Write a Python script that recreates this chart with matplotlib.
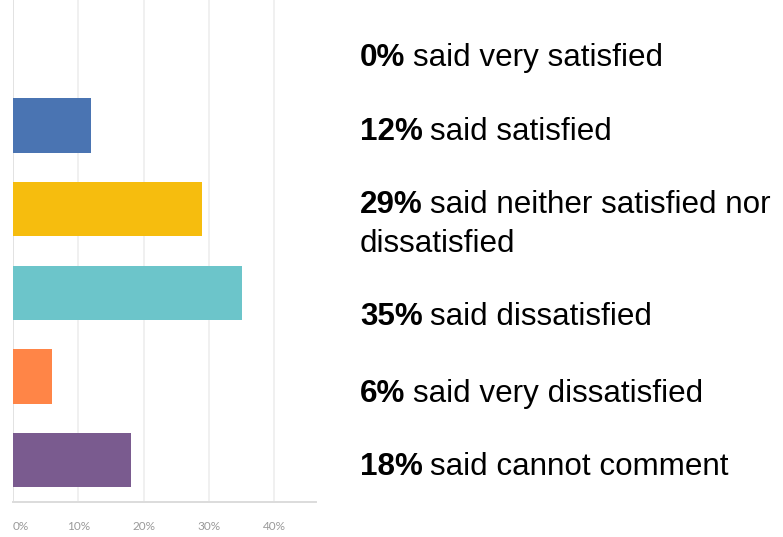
import matplotlib
matplotlib.use("Agg")
import matplotlib.pyplot as plt

# Survey responses
categories = ["very satisfied", "satisfied", "neither satisfied nor\ndissatisfied",
              "dissatisfied", "very dissatisfied", "cannot comment"]
percentages = [0, 12, 29, 35, 6, 18]
bar_colors = ["#4a74b2", "#4a74b2", "#f6bd0e", "#6cc5ca", "#ff8547", "#7a5b8f"]
x_ticks = [0, 10, 20, 30, 40]
x_tick_labels = ["0%", "10%", "20%", "30%", "40%"]

W, H = 783, 537
fig = plt.figure(figsize=(W / 100, H / 100), dpi=100)
fig.patch.set_facecolor("white")

ax = fig.add_axes([13 / W, (H - 502) / H, (316 - 13) / W, 502 / H])
ax.set_xlim(0, 46.4)
ax.set_ylim(len(categories) - 0.5, -0.5)

ax.barh(range(len(categories)), percentages, height=0.65, color=bar_colors, zorder=3)

for x in x_ticks:
    ax.axvline(x, color="#f0f0f0" if x else "#e2e2e2", lw=1.4, zorder=1)

for side in ("top", "right", "left"):
    ax.spines[side].set_visible(False)
ax.spines["bottom"].set_color("#dcdcdc")
ax.spines["bottom"].set_linewidth(1.4)

ax.set_yticks([])
ax.set_xticks(x_ticks)
ax.set_xticklabels(x_tick_labels, fontsize=8.5, color="#9a9a9a", family="Lato")
ax.tick_params(axis="x", length=0, pad=14)
ax.get_xticklabels()[0].set_horizontalalignment("left")

# Right-hand summary statements: bold percentage followed by the description
font = "Liberation Sans"
size = 22.6
gap_px = 7.5
baselines = [66, 140, 213, 325, 402, 475]
x0 = 360 / W
for pct, cat, yb in zip(percentages, categories, baselines):
    first, *rest = cat.split("\n")
    t = fig.text(x0, 1 - yb / H, f"{pct}%", fontsize=size, fontweight="bold",
                 family=font, color="black", va="baseline", ha="left")
    fig.canvas.draw()
    r = fig.canvas.get_renderer()
    bb = t.get_window_extent(renderer=r)
    fig.text((bb.x1 + gap_px) / W, 1 - yb / H, "said " + first, fontsize=size,
             family=font, color="black", va="baseline", ha="left")
    for k, line in enumerate(rest, start=1):
        fig.text(x0, 1 - (yb + 39 * k) / H, line, fontsize=size,
                 family=font, color="black", va="baseline", ha="left")

fig.savefig("out.png", dpi=100, facecolor="white")
